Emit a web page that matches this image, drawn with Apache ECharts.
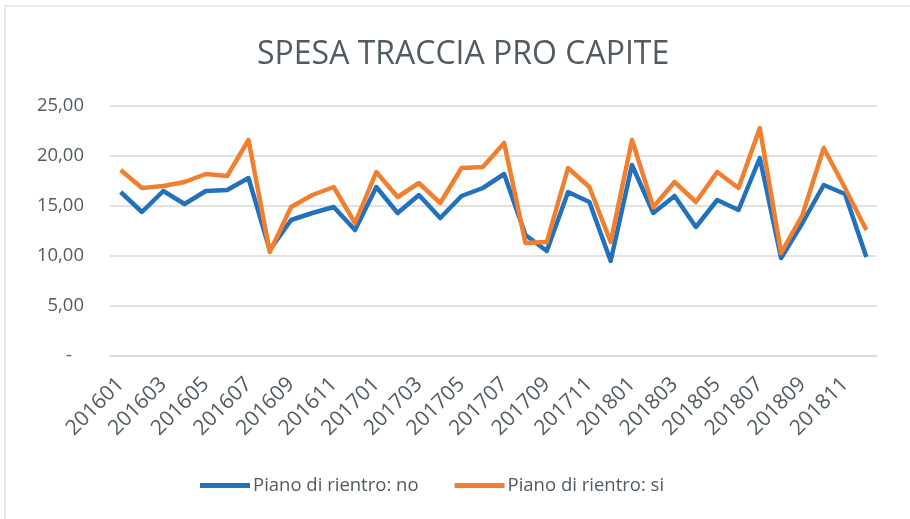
<!DOCTYPE html>
<html>
<head>
<meta charset="utf-8">
<script src="https://cdn.jsdelivr.net/npm/echarts@6/dist/echarts.min.js"></script>
<style>
  html, body { margin: 0; padding: 0; background: #fff; }
  #chart { width: 910px; height: 519px; }
</style>
</head>
<body>
<div id="chart"></div>
<script>
// mesi 2016-2018
var months = [
  '201601', '201602', '201603', '201604', '201605', '201606',
  '201607', '201608', '201609', '201610', '201611', '201612',
  '201701', '201702', '201703', '201704', '201705', '201706',
  '201707', '201708', '201709', '201710', '201711', '201712',
  '201801', '201802', '201803', '201804', '201805', '201806',
  '201807', '201808', '201809', '201810', '201811', '201812'
];

var pianoNo = [
  16.4, 14.4, 16.5, 15.2, 16.5, 16.6, 17.8, 10.6, 13.6, 14.3, 14.9, 12.6,
  16.9, 14.3, 16.1, 13.8, 16.0, 16.8, 18.2, 12.1, 10.5, 16.4, 15.4, 9.5,
  19.1, 14.3, 16.0, 12.9, 15.6, 14.6, 19.8, 9.8, 13.3, 17.1, 16.2, 9.9
];

var pianoSi = [
  18.6, 16.8, 17.0, 17.4, 18.2, 18.0, 21.6, 10.4, 14.9, 16.1, 16.9, 13.3,
  18.4, 15.9, 17.3, 15.3, 18.8, 18.9, 21.3, 11.3, 11.4, 18.8, 16.9, 11.4,
  21.6, 14.9, 17.4, 15.4, 18.4, 16.8, 22.8, 10.3, 14.1, 20.8, 16.8, 12.6
];

var textColor = '#515b61';

var chart = echarts.init(document.getElementById('chart'));

var option = {
  backgroundColor: '#fff',
  animation: false,
  color: ['#2370bd', '#f0802f'],
  title: {
    text: 'SPESA TRACCIA PRO CAPITE',
    left: 252,
    top: 34,
    textStyle: {
      fontFamily: 'Open Sans',
      fontWeight: 'normal',
      fontSize: 32,
      color: textColor
    }
  },
  graphic: [
    {
      type: 'rect',
      shape: { x: 5, y: 6, width: 920, height: 530 },
      style: { fill: 'none', stroke: '#e2e2e2', lineWidth: 1.5 },
      silent: true
    }
  ],
  legend: {
    bottom: 19,
    left: 195,
    itemGap: 36,
    itemWidth: 50,
    itemHeight: 5,
    icon: 'rect',
    textStyle: {
      fontFamily: 'Open Sans',
      fontSize: 18.5,
      color: textColor,
      padding: [0, 0, 0, -2]
    },
    data: ['Piano di rientro: no', 'Piano di rientro: si']
  },
  grid: {
    left: 110,
    right: 33,
    top: 106,
    bottom: 163,
    containLabel: false
  },
  xAxis: {
    type: 'category',
    data: months,
    boundaryGap: true,
    axisLine: { lineStyle: { color: '#d9d9d9', width: 1.5 } },
    axisTick: { show: false },
    axisLabel: {
      interval: 1,
      rotate: 45,
      margin: 25,
      fontFamily: 'Open Sans',
      fontSize: 21,
      color: textColor
    }
  },
  yAxis: {
    type: 'value',
    min: 0,
    max: 25,
    interval: 5,
    axisLine: { show: false },
    axisTick: { show: false },
    splitLine: { lineStyle: { color: '#d9d9d9', width: 1.5 } },
    axisLabel: {
      margin: 26,
      fontFamily: 'Open Sans',
      fontSize: 18.5,
      color: textColor,
      formatter: function (v) {
        if (v === 0) return '{z|-}';
        return v.toFixed(2).replace('.', ',');
      },
      rich: {
        z: { padding: [0, 12, 0, 0], fontSize: 18.5, color: textColor }
      }
    }
  },
  series: [
    {
      name: 'Piano di rientro: no',
      type: 'line',
      data: pianoNo,
      symbol: 'none',
      lineStyle: { width: 4.5, join: 'round' }
    },
    {
      name: 'Piano di rientro: si',
      type: 'line',
      data: pianoSi,
      symbol: 'none',
      lineStyle: { width: 4.5, join: 'round' }
    }
  ]
};

chart.setOption(option);
</script>
</body>
</html>
